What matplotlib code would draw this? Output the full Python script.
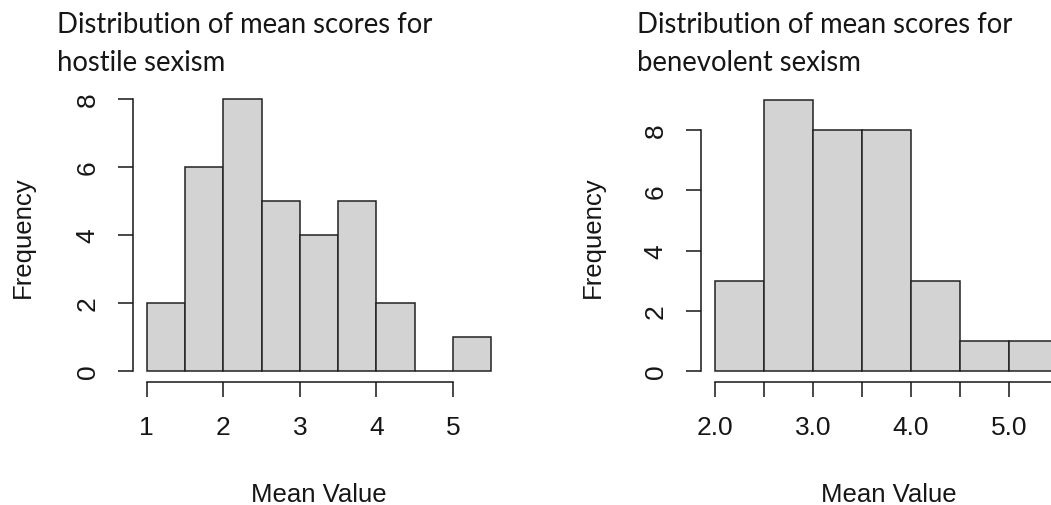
import numpy as np
import matplotlib
matplotlib.use("Agg")
import matplotlib.pyplot as plt

# bin edges and counts for the two sexism scales
hostile_edges = [1.0, 1.5, 2.0, 2.5, 3.0, 3.5, 4.0, 4.5, 5.0, 5.5]
hostile_counts = [2, 6, 8, 5, 4, 5, 2, 0, 1]
hostile_yticks = [0, 2, 4, 6, 8]
hostile_xticks = [1, 2, 3, 4, 5]
hostile_xlabels = ["1", "2", "3", "4", "5"]

benevolent_edges = [2.0, 2.5, 3.0, 3.5, 4.0, 4.5, 5.0, 5.5]
benevolent_counts = [3, 9, 8, 8, 3, 1, 1]
benevolent_yticks = [0, 2, 4, 6, 8]
benevolent_xticks = [2.0, 2.5, 3.0, 3.5, 4.0, 4.5, 5.0, 5.5]
benevolent_xlabels = ["2.0", "", "3.0", "", "4.0", "", "5.0", ""]

W, H = 1051, 506
plt.rcParams["font.family"] = ["Liberation Sans", "DejaVu Sans"]
ink = "#161616"

fig = plt.figure(figsize=(W / 100, H / 100), dpi=100)


def px_axes(x0, y0, x1, y1):
    # axes from pixel box (top-left origin)
    return fig.add_axes([x0 / W, 1 - y1 / H, (x1 - x0) / W, (y1 - y0) / H])


def r_hist(ax, edges, counts, yticks, xticks, xlabels):
    edges = np.asarray(edges)
    ax.bar(edges[:-1], counts, width=np.diff(edges), align="edge",
           color="#d3d3d3", edgecolor="#222222", linewidth=1.1)
    span = edges[-1] - edges[0]
    top = max(counts)
    ax.set_xlim(edges[0] - 0.04 * span, edges[-1] + 0.04 * span)
    ax.set_ylim(-0.04 * top, top * 1.04)
    for s in ["top", "right"]:
        ax.spines[s].set_visible(False)
    for s in ["left", "bottom"]:
        ax.spines[s].set_linewidth(1.1)
        ax.spines[s].set_color(ink)
    ax.spines["left"].set_bounds(yticks[0], yticks[-1])
    ax.spines["bottom"].set_bounds(xticks[0], xticks[-1])
    ax.set_yticks(yticks)
    ax.set_yticklabels([str(v) for v in yticks], rotation=90, va="center")
    ax.set_xticks(xticks)
    ax.set_xticklabels(xlabels)
    ax.tick_params(axis="both", length=11, width=1.1, color=ink,
                   labelsize=19, labelcolor=ink)
    ax.tick_params(axis="y", pad=13)
    ax.tick_params(axis="x", pad=13)
    ax.patch.set_visible(False)


ax1 = px_axes(133, 89, 505, 383)
r_hist(ax1, hostile_edges, hostile_counts, hostile_yticks,
       hostile_xticks, hostile_xlabels)

ax2 = px_axes(701, 90, 1072, 383)
r_hist(ax2, benevolent_edges, benevolent_counts, benevolent_yticks,
       benevolent_xticks, benevolent_xlabels)

title_font = dict(family=["Lato", "DejaVu Sans"], fontsize=19.8, color=ink,
                  va="center", ha="left", linespacing=1.6)
fig.text(57 / W, 1 - 44 / H, "Distribution of mean scores for\nhostile sexism",
         **title_font)
fig.text(637 / W, 1 - 44 / H, "Distribution of mean scores for\nbenevolent sexism",
         **title_font)

lab = dict(fontsize=18.5, color=ink, ha="center", va="center")
fig.text(23 / W, 1 - 237 / H, "Frequency", rotation=90, **lab)
fig.text(593 / W, 1 - 237 / H, "Frequency", rotation=90, **lab)
fig.text(319 / W, 1 - 495 / H, "Mean Value", **lab)
fig.text(889 / W, 1 - 495 / H, "Mean Value", **lab)

fig.savefig("out.png", dpi=100)
